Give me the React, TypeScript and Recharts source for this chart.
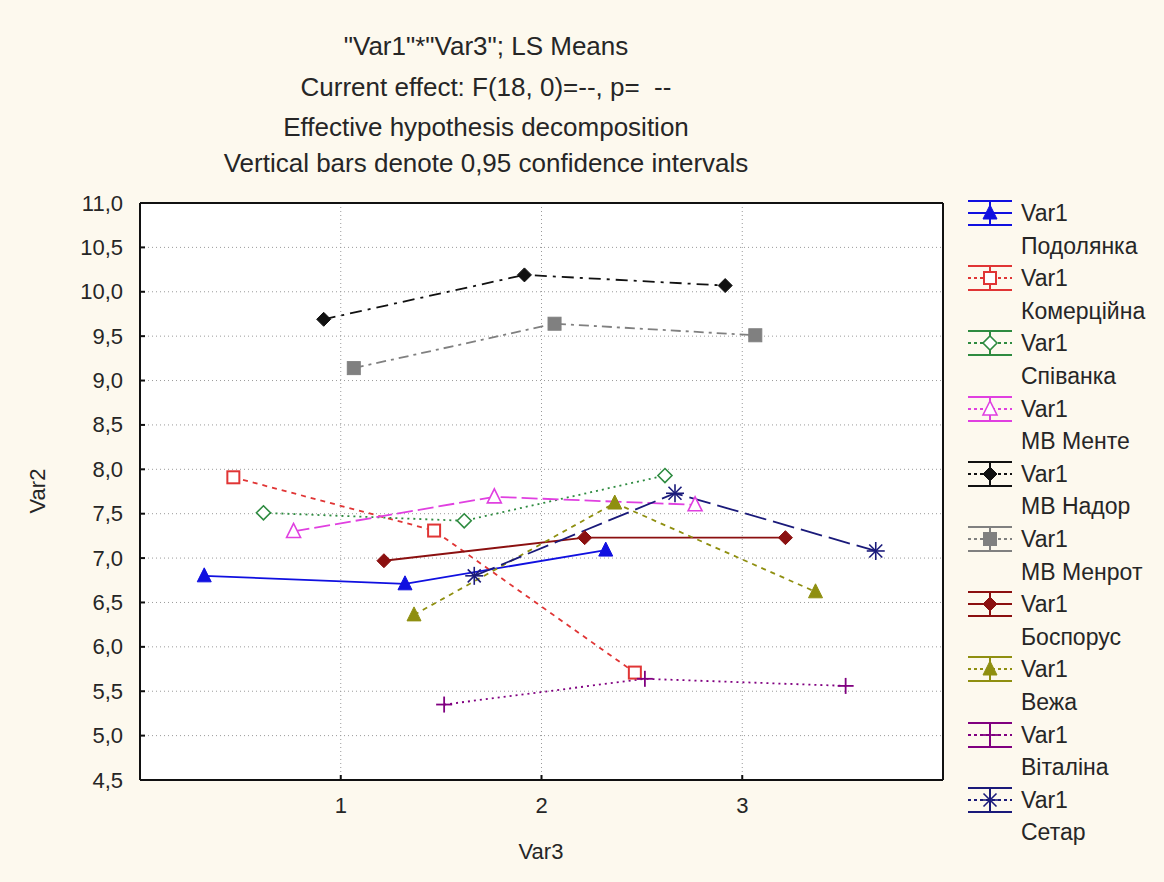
import React from 'react'
import { LineChart, Line, XAxis, YAxis, CartesianGrid } from 'recharts'

// Var3 levels and the horizontal jitter each group gets
const categories = [1, 2, 3]
const xOffsets = [-0.68, -0.535, -0.385, -0.235, -0.085, 0.065, 0.215, 0.365, 0.515, 0.665]

// LS means per group (Var2)
const podolyanka = [6.8, 6.71, 7.09]
const komertsiyna = [7.91, 7.31, 5.71]
const spivanka = [7.51, 7.42, 7.93]
const mvMente = [7.3, 7.69, 7.6]
const mvNador = [9.69, 10.19, 10.07]
const mvMenrot = [9.14, 9.64, 9.51]
const bosporus = [6.97, 7.23, 7.23]
const vezha = [6.36, 7.62, 6.62]
const vitalina = [5.35, 5.64, 5.56]
const setar = [6.8, 7.73, 7.08]

const yTicks = [4.5, 5, 5.5, 6, 6.5, 7, 7.5, 8, 8.5, 9, 9.5, 10, 10.5, 11]
const titleLines = [
  '"Var1"*"Var3"; LS Means',
  'Current effect: F(18, 0)=--, p=  --',
  'Effective hypothesis decomposition',
  'Vertical bars denote 0,95 confidence intervals',
]

const FONT = '"Liberation Sans", Arial, sans-serif'
const TEXT = '#262626'

type MarkerKind = 'triFilled' | 'squareOpen' | 'diamondOpen' | 'triOpen' | 'diamondFilled' | 'squareFilled' | 'plus' | 'star'

const series: { name: string; values: number[]; color: string; dash?: string; marker: MarkerKind }[] = [
  { name: 'Подолянка', values: podolyanka, color: '#1010e0', marker: 'triFilled' },
  { name: 'Комерційна', values: komertsiyna, color: '#e03535', dash: '5 5', marker: 'squareOpen' },
  { name: 'Співанка', values: spivanka, color: '#2e8b40', dash: '2 4', marker: 'diamondOpen' },
  { name: 'МВ Менте', values: mvMente, color: '#e040e0', dash: '16 5', marker: 'triOpen' },
  { name: 'МВ Надор', values: mvNador, color: '#111', dash: '12 6 3 6', marker: 'diamondFilled' },
  { name: 'МВ Менрот', values: mvMenrot, color: '#808080', dash: '10 5 3 5', marker: 'squareFilled' },
  { name: 'Боспорус', values: bosporus, color: '#8b1010', marker: 'diamondFilled' },
  { name: 'Вежа', values: vezha, color: '#8f8f10', dash: '5 5', marker: 'triFilled' },
  { name: 'Віталіна', values: vitalina, color: '#800080', dash: '2 4', marker: 'plus' },
  { name: 'Сетар', values: setar, color: '#1a1a7a', dash: '22 7', marker: 'star' },
]

const fmt = (v: number) => v.toFixed(1).replace('.', ',')

function MarkerShape({ cx, cy, kind, color }: { cx: number; cy: number; kind: MarkerKind; color: string }) {
  const s = 7
  switch (kind) {
    case 'triFilled':
      return <polygon points={`${cx},${cy - s - 1} ${cx - s},${cy + s - 1} ${cx + s},${cy + s - 1}`} fill={color} stroke={color} />
    case 'triOpen':
      return <polygon points={`${cx},${cy - s - 1} ${cx - s},${cy + s - 1} ${cx + s},${cy + s - 1}`} fill="#fff" stroke={color} strokeWidth={1.6} />
    case 'squareOpen':
      return <rect x={cx - 6} y={cy - 6} width={12} height={12} fill="#fff" stroke={color} strokeWidth={2} />
    case 'squareFilled':
      return <rect x={cx - 6.5} y={cy - 6.5} width={13} height={13} fill={color} stroke={color} />
    case 'diamondOpen':
      return <polygon points={`${cx},${cy - s} ${cx + s},${cy} ${cx},${cy + s} ${cx - s},${cy}`} fill="#fff" stroke={color} strokeWidth={1.6} />
    case 'diamondFilled':
      return <polygon points={`${cx},${cy - s} ${cx + s},${cy} ${cx},${cy + s} ${cx - s},${cy}`} fill={color} stroke={color} />
    case 'plus':
      return (
        <g stroke={color} strokeWidth={1.8}>
          <line x1={cx - 8} x2={cx + 8} y1={cy} y2={cy} />
          <line x1={cx} x2={cx} y1={cy - 8} y2={cy + 8} />
        </g>
      )
    case 'star':
      return (
        <g stroke={color} strokeWidth={1.6}>
          <line x1={cx - 9} x2={cx + 9} y1={cy} y2={cy} />
          <line x1={cx} x2={cx} y1={cy - 9} y2={cy + 9} />
          <line x1={cx - 6.5} x2={cx + 6.5} y1={cy - 6.5} y2={cy + 6.5} />
          <line x1={cx - 6.5} x2={cx + 6.5} y1={cy + 6.5} y2={cy - 6.5} />
        </g>
      )
  }
  return null
}

const LEFT_GAP = 17
const BOTTOM_GAP = 25

function LeftTick(p: any) {
  const ax = p.x + LEFT_GAP
  return (
    <g>
      <text x={p.x} y={p.y} textAnchor="end" dominantBaseline="central" fontSize={22} fontFamily={FONT} fill={TEXT}>
        {fmt(p.payload.value)}
      </text>
      <line x1={ax} x2={ax + 5} y1={p.y} y2={p.y} stroke="#111" strokeWidth={2} />
    </g>
  )
}

function BottomTick(p: any) {
  const ay = p.y - BOTTOM_GAP
  return (
    <g>
      <text x={p.x} y={p.y} textAnchor="middle" dominantBaseline="central" fontSize={22} fontFamily={FONT} fill={TEXT}>
        {p.payload.value}
      </text>
      <line x1={p.x} x2={p.x} y1={ay} y2={ay - 5} stroke="#111" strokeWidth={2} />
    </g>
  )
}

function TopTick(p: any) {
  return <line x1={p.x} x2={p.x} y1={p.y} y2={p.y + 5} stroke="#111" strokeWidth={2} />
}

function RightTick(p: any) {
  return <line x1={p.x} x2={p.x - 5} y1={p.y} y2={p.y} stroke="#111" strokeWidth={2} />
}

function LegendIcon({ s }: { s: (typeof series)[number] }) {
  return (
    <svg width={48} height={28} style={{ display: 'block' }}>
      <line x1={2} x2={46} y1={2} y2={2} stroke={s.color} strokeWidth={2} />
      <line x1={2} x2={46} y1={26} y2={26} stroke={s.color} strokeWidth={2} />
      <line x1={24} x2={24} y1={2} y2={26} stroke={s.color} strokeWidth={2} />
      <line x1={2} x2={46} y1={14} y2={14} stroke={s.color} strokeWidth={2} strokeDasharray={s.dash ? '3 3' : undefined} />
      <MarkerShape cx={24} cy={14} kind={s.marker} color={s.color} />
    </svg>
  )
}

export default function App() {
  const axisLine = { stroke: '#111', strokeWidth: 2 }
  return (
    <div style={{ position: 'absolute', left: 0, top: 0, width: 1164, height: 882, background: '#fdf9ee', fontFamily: FONT, color: TEXT }}>
      {titleLines.map((t, i) => (
        <div key={i} style={{ position: 'absolute', left: 0, width: 972, top: [46, 87, 127, 163][i] - 15, height: 30, lineHeight: '30px', textAlign: 'center', fontSize: 26, whiteSpace: 'pre' }}>
          {t}
        </div>
      ))}
      <LineChart width={1164} height={882} margin={{ top: 202, right: 220, bottom: 62, left: 80 }}>
        <CartesianGrid fill="#fff" stroke="#9a9a9a" strokeDasharray="1 3" />
        <XAxis dataKey="x" type="number" domain={[0, 4]} ticks={categories} axisLine={axisLine} tickLine={false} tickSize={0} tickMargin={BOTTOM_GAP} height={40} tick={BottomTick} />
        <XAxis xAxisId="top" orientation="top" type="number" domain={[0, 4]} ticks={categories} axisLine={axisLine} tickLine={false} tickSize={0} tickMargin={0} height={1} tick={TopTick} />
        <YAxis type="number" domain={[4.5, 11]} ticks={yTicks} axisLine={axisLine} tickLine={false} tickSize={0} tickMargin={LEFT_GAP} width={60} tick={LeftTick} />
        <YAxis yAxisId="right" orientation="right" type="number" domain={[4.5, 11]} ticks={yTicks} axisLine={axisLine} tickLine={false} tickSize={0} tickMargin={0} width={1} tick={RightTick} />
        {series.map((s, si) => (
          <Line
            key={s.name}
            name={s.name}
            data={categories.map((c, i) => ({ x: c + xOffsets[si], y: s.values[i] }))}
            dataKey="y"
            stroke={s.color}
            strokeWidth={1.8}
            strokeDasharray={s.dash}
            dot={(p: any) => <MarkerShape key={p.index} cx={p.cx} cy={p.cy} kind={s.marker} color={s.color} />}
            activeDot={false}
            isAnimationActive={false}
          />
        ))}
      </LineChart>
      <div style={{ position: 'absolute', left: 541 - 60, width: 120, top: 838, textAlign: 'center', fontSize: 22, lineHeight: '28px' }}>Var3</div>
      <div style={{ position: 'absolute', left: 38 - 60, top: 491 - 14, width: 120, height: 28, lineHeight: '28px', textAlign: 'center', fontSize: 22, transform: 'rotate(-90deg)' }}>Var2</div>
      {series.map((s, i) => {
        const yc = 213 + i * 65.2
        return (
          <React.Fragment key={s.name}>
            <div style={{ position: 'absolute', left: 966, top: yc - 14 }}>
              <LegendIcon s={s} />
            </div>
            <div style={{ position: 'absolute', left: 1021, top: yc - 14, height: 28, lineHeight: '28px', fontSize: 23, whiteSpace: 'nowrap' }}>Var1</div>
            <div style={{ position: 'absolute', left: 1021, top: yc + 32.6 - 14, height: 28, lineHeight: '28px', fontSize: 23, whiteSpace: 'nowrap' }}>{s.name}</div>
          </React.Fragment>
        )
      })}
    </div>
  )
}
